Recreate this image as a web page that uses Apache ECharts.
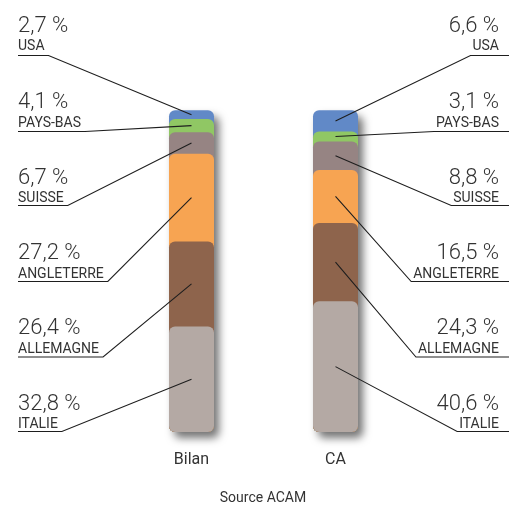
<!DOCTYPE html>
<html>
<head>
<meta charset="utf-8">
<script src="https://cdn.jsdelivr.net/npm/echarts@6/dist/echarts.min.js"></script>
<style>
html,body{margin:0;padding:0;background:#fff;}
#main{width:513px;height:508px;}
</style>
</head>
<body>
<div id="main"></div>
<script>
// ---- data ----
const categories = ['Bilan', 'CA'];
const countries = ['USA', 'PAYS-BAS', 'SUISSE', 'ANGLETERRE', 'ALLEMAGNE', 'ITALIE'];
const bilanValues = [2.7, 4.1, 6.7, 27.2, 26.4, 32.8];
const caValues = [6.6, 3.1, 8.8, 16.5, 24.3, 40.6];
const sourceText = 'Source ACAM';

// ---- styles ----
const colors = ['#6189c7', '#90c764', '#968483', '#f7a452', '#8e644c', '#b4a9a4'];
const textColor = '#333333';
const lineColor = '#1e1e1e';
const pctFont = '300 22px Roboto';
const nameFont = '14px Roboto';

// cumulative tops (bottom = ITALIE), each bar drawn from 0 to its top
function cumTops(vals) {
  const out = [];
  for (let i = 0; i < vals.length; i++) {
    let s = 0;
    for (let j = i; j < vals.length; j++) s += vals[j];
    out.push(+s.toFixed(2));
  }
  return out;
}
const bilanTops = cumTops(bilanValues);
const caTops = cumTops(caValues);

const series = countries.map((c, i) => ({
  name: c,
  type: 'bar',
  barWidth: 45,
  barGap: '-100%',
  z: 2 + i,
  data: [bilanTops[i], caTops[i]],
  itemStyle: Object.assign({
    color: colors[i],
    borderRadius: 6
  }, i === 0 ? {
    shadowColor: 'rgba(0,0,0,0.55)',
    shadowBlur: 9,
    shadowOffsetX: 5,
    shadowOffsetY: 6
  } : {}),
  emphasis: { disabled: true },
  silent: true,
  animation: false
}));

const chart = echarts.init(document.getElementById('main'), null, { renderer: 'canvas' });
chart.setOption({
  animation: false,
  backgroundColor: '#ffffff',
  grid: { left: 119.5, width: 288, top: 110, bottom: 76 },
  xAxis: {
    type: 'category',
    data: categories,
    axisLine: { show: false },
    axisTick: { show: false },
    axisLabel: { color: textColor, fontSize: 16, fontFamily: 'Roboto', margin: 20 }
  },
  yAxis: { type: 'value', min: 0, max: 100, show: false, splitLine: { show: false } },
  series: series
});

// ---- labels with leader lines ----
const measureCtx = document.createElement('canvas').getContext('2d');
function textWidth(t, font) { measureCtx.font = font; return measureCtx.measureText(t).width; }
function fmt(v) { return v.toFixed(1).replace('.', ',') + ' %'; }

const pctCenterY = [25, 101, 177, 252, 327, 403];
const nameCenterY = [45.5, 122.5, 197.5, 273, 348, 423.5];
const underlineY = [55.5, 131.5, 205.5, 281.5, 357, 431.5];
const leftX = 18;
const rightX = 499;
const rightLineEnd = 509;

const graphics = [];
function addSide(vals, tops, catIdx, side) {
  vals.forEach((v, i) => {
    const mid = tops[i] - v / 2;
    const pt = chart.convertToPixel({ gridIndex: 0 }, [catIdx, mid]);
    const nameW = textWidth(countries[i], nameFont);
    const isLeft = side === 'left';
    const tx = isLeft ? leftX : rightX;
    const align = isLeft ? 'left' : 'right';
    graphics.push({
      type: 'text', z: 100,
      style: { text: fmt(v), x: tx, y: pctCenterY[i] + 1, font: pctFont, fill: textColor, align: align, verticalAlign: 'middle' }
    });
    graphics.push({
      type: 'text', z: 100,
      style: { text: countries[i], x: tx, y: nameCenterY[i] + 1, font: nameFont, fill: textColor, align: align, verticalAlign: 'middle' }
    });
    let pts;
    if (isLeft) {
      pts = [[leftX, underlineY[i]], [leftX + nameW + 4, underlineY[i]], [pt[0], pt[1]]];
    } else {
      pts = [[rightLineEnd, underlineY[i]], [rightX - nameW - 2, underlineY[i]], [pt[0], pt[1]]];
    }
    graphics.push({
      type: 'polyline', z: 100,
      shape: { points: pts },
      style: { stroke: lineColor, lineWidth: 1.1, fill: null }
    });
  });
}
addSide(bilanValues, bilanTops, 0, 'left');
addSide(caValues, caTops, 1, 'right');
graphics.push({
  type: 'text', z: 100,
  style: { text: sourceText, x: 263, y: 498, font: '14px Roboto', fill: textColor, align: 'center', verticalAlign: 'middle' }
});
chart.setOption({ graphic: graphics });
</script>
</body>
</html>
